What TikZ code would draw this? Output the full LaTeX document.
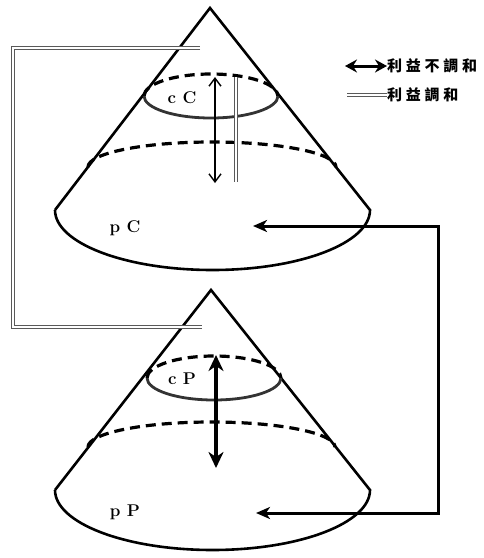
\documentclass[tikz,border=0pt]{standalone}
\usepackage{fontspec}
\newfontfamily\cjk{Noto Sans CJK TC}[LetterSpace=25]
\usetikzlibrary{arrows.meta}
\begin{document}
\begin{tikzpicture}[x=1pt, y=-1pt,
    cone/.style={line width=2.6pt, line join=miter},
    backrim/.style={line width=3.2pt, dash pattern=on 10pt off 6pt},
    frontrim/.style={line width=2.8pt, draw=black!80},
    harmony/.style={draw=black!65, double=white, double distance=2pt, line width=0.8pt},
    clash/.style={line width=1.4pt, {Straight Barb[length=8pt,width=12pt]}-{Straight Barb[length=8pt,width=12pt]}},
    bigclash/.style={line width=3.6pt, {Stealth[length=16pt,width=15pt,inset=5pt]}-{Stealth[length=16pt,width=15pt,inset=5pt]}},
    feed/.style={line width=3pt, line join=miter, -{Stealth[length=14pt,width=12pt,inset=4pt]}},
    lbl/.style={font=\bfseries\fontsize{17}{17}\selectfont, inner sep=0pt},
    legend/.style={font=\cjk\bfseries\fontsize{15}{15}\selectfont, anchor=west, inner sep=0pt}]
    \useasboundingbox (0,0) rectangle (484,558);
    % upper cone C
    \draw[cone] (55,210) -- (210,8) -- (370,210)
        arc[start angle=0, end angle=180, x radius=157.5, y radius=60];
    \draw[backrim] (88,167) arc[start angle=180, end angle=360, x radius=124, y radius=25];
    \draw[backrim] (144,96) arc[start angle=180, end angle=360, x radius=67, y radius=22];
    \draw[frontrim] (144,96) arc[start angle=180, end angle=0, x radius=67, y radius=22];
    \node[lbl] (cC) at (182,98) {c~C};
    \node[lbl] (pC) at (125,228) {p~C};
    \coordinate (cCtop) at (215,77);
    \coordinate (cCbot) at (215,183);
    \draw[clash] (cCtop) -- (cCbot);
    \coordinate (hCtop) at (236,77);
    \coordinate (hCbot) at (236,182);
    \draw[harmony] (hCtop) -- (hCbot);
    % lower cone P
    \draw[cone] (55,490) -- (211,290) -- (370,490)
        arc[start angle=0, end angle=180, x radius=157.5, y radius=60];
    \draw[backrim] (88,447) arc[start angle=180, end angle=360, x radius=123.5, y radius=25];
    \draw[backrim] (147,378) arc[start angle=180, end angle=360, x radius=67, y radius=22];
    \draw[frontrim] (147,378) arc[start angle=180, end angle=0, x radius=67, y radius=22];
    \node[lbl] (cP) at (182,379) {c~P};
    \node[lbl] (pP) at (125,512) {p~P};
    \coordinate (cPtop) at (216,355);
    \coordinate (cPbot) at (216,468);
    \draw[bigclash] (cPtop) -- (cPbot);
    % links between the cones
    \coordinate (feedC) at (253,226);
    \coordinate (feedP) at (256,513);
    \coordinate (feedTop) at (438,226);
    \coordinate (feedBot) at (438,513);
    \draw[feed] (feedBot) -- (feedTop) -- (feedC);
    \draw[feed] (feedTop) -- (feedBot) -- (feedP);
    \coordinate (frameA) at (200,48);
    \coordinate (frameB) at (13,48);
    \coordinate (frameC) at (13,327);
    \coordinate (frameD) at (202,327);
    \draw[harmony] (frameA) -- (frameB) -- (frameC) -- (frameD);
    % legend
    \node[legend] (clashtxt) at (387,66) {利益不調和};
    \node[legend] (harmtxt) at (387,95) {利益調和};
    \coordinate (clashkey) at (345,66);
    \coordinate (harmkey) at (347,95);
    \draw[line width=3pt, {Stealth[length=12pt,width=13pt,inset=4pt]}-{Stealth[length=12pt,width=13pt,inset=4pt]}] (clashkey) -- (clashtxt.west);
    \draw[harmony] (harmkey) -- (harmtxt.west);
\end{tikzpicture}
\end{document}
